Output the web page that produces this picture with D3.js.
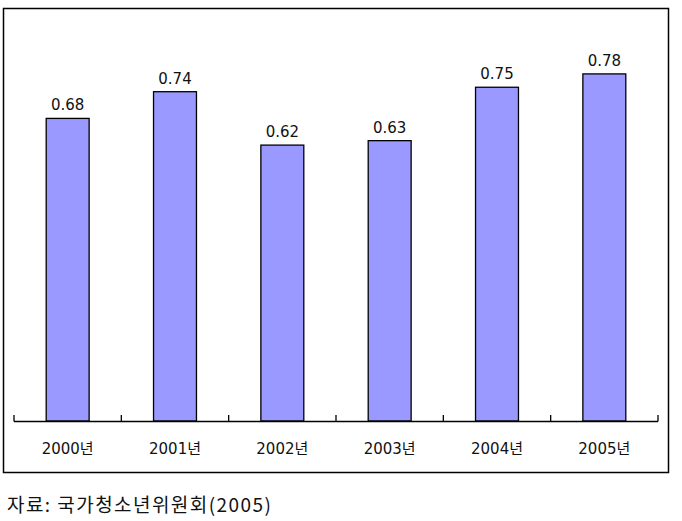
<!DOCTYPE html>
<html><head><meta charset="utf-8">
<script src="https://cdn.jsdelivr.net/npm/d3@7"></script>
<style>body{margin:0;background:#fff}svg{display:block}</style>
</head><body>
<svg id="c" width="682" height="521"></svg>
<script>
const categories = ["2000년","2001년","2002년","2003년","2004년","2005년"];
const values = [0.68, 0.74, 0.62, 0.63, 0.75, 0.78];
const valueLabels = ["0.68","0.74","0.62","0.63","0.75","0.78"];
const sourceText = "자료: 국가청소년위원회(2005)";

const svg = d3.select("#c");
const fontSans = "'DejaVu Sans', 'Noto Sans CJK KR', sans-serif";

svg.append("rect").attr("x",3.5).attr("y",8.5).attr("width",665).attr("height",464)
  .attr("fill","none").attr("stroke","#000").attr("stroke-width",1.5);

const x = d3.scaleBand().domain(categories).range([14,658]).paddingInner(0.6).paddingOuter(0.3);
const y = d3.scaleLinear().domain([0,0.9]).range([421,20.5]);

const g = svg.append("g");
g.selectAll("rect.bar").data(values).join("rect").attr("class","bar")
  .attr("x",(d,i)=>x(categories[i])).attr("width",x.bandwidth())
  .attr("y",d=>y(d)).attr("height",d=>y(0)-y(d))
  .attr("fill","#9999FF").attr("stroke","#000").attr("stroke-width",1.3);

g.selectAll("text.val").data(values).join("text").attr("class","val")
  .attr("x",(d,i)=>x(categories[i])+x.bandwidth()/2).attr("y",d=>y(d)-8)
  .attr("text-anchor","middle").attr("font-family",fontSans).attr("font-size",15)
  .attr("fill","#111").text((d,i)=>valueLabels[i]);

// x axis with inward ticks at band boundaries
const ax = svg.append("g");
ax.append("line").attr("x1",14).attr("x2",658).attr("y1",421.5).attr("y2",421.5)
  .attr("stroke","#000").attr("stroke-width",1.3);
const step = x.step();
const bounds = categories.map((c,i)=>x(c)-x.paddingInner()*step/2).concat([658]);
bounds[0]=14;
ax.selectAll("line.tk").data(bounds).join("line").attr("class","tk")
  .attr("x1",d=>d).attr("x2",d=>d).attr("y1",415).attr("y2",421.5)
  .attr("stroke","#000").attr("stroke-width",1.3);
ax.selectAll("text.cat").data(categories).join("text").attr("class","cat")
  .attr("x",d=>x(d)+x.bandwidth()/2).attr("y",454)
  .attr("text-anchor","middle").attr("font-family",fontSans).attr("font-size",15)
  .attr("fill","#111").text(d=>d);

svg.append("text").attr("x",7).attr("y",512).attr("font-family","'Noto Sans CJK KR', sans-serif")
  .attr("font-size",19).attr("fill","#111").attr("textLength",264).attr("lengthAdjust","spacing")
  .text(sourceText);
</script>
</body></html>
